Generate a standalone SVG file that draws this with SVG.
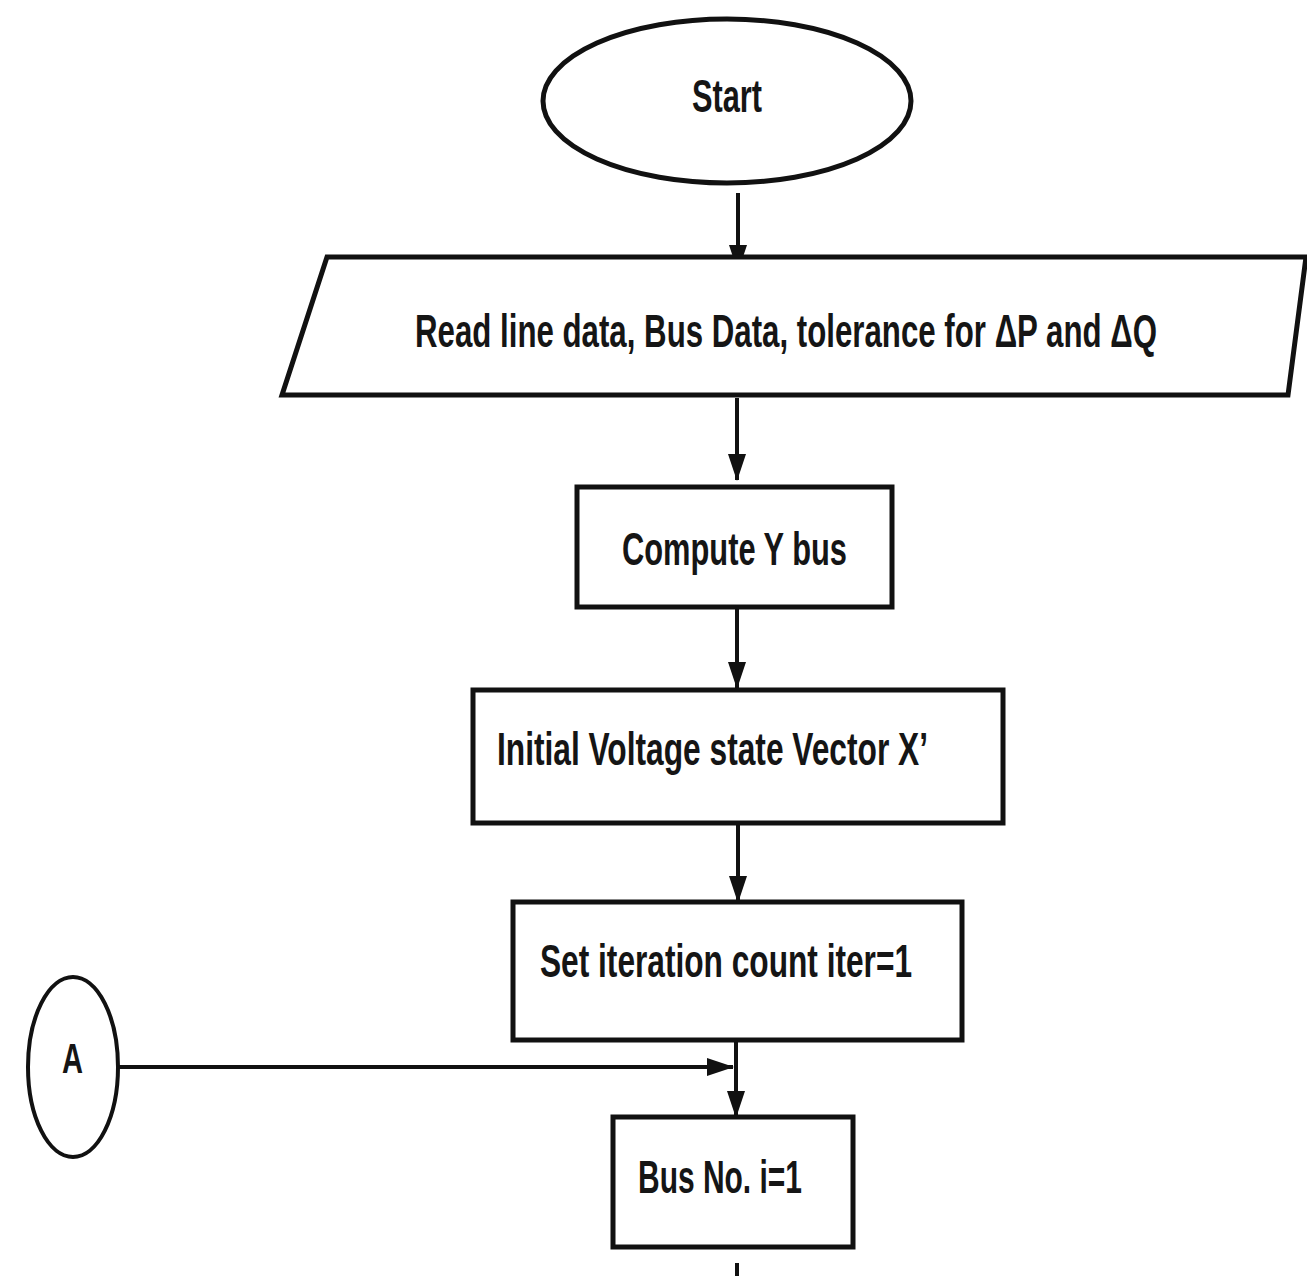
<svg xmlns="http://www.w3.org/2000/svg" width="1307" height="1276" viewBox="0 0 1307 1276">
<style>
.shape{fill:#fff;stroke:#111;stroke-width:5}
.thin{fill:#fff;stroke:#111;stroke-width:4}
.conn{fill:none;stroke:#111;stroke-width:4}
.lbl{font-family:"Liberation Sans",Arial,sans-serif;font-weight:bold;font-size:46px;fill:#151515}
</style>
<defs>
<marker id="ah" markerUnits="userSpaceOnUse" markerWidth="27" markerHeight="18" refX="26" refY="9" orient="auto">
<path d="M0,0 L27,9 L0,18 z" fill="#111"/>
</marker>
</defs>
<rect width="1307" height="1276" fill="#fff"/>
<g id="connectors">
<line class="conn" x1="738" y1="193" x2="738" y2="271" marker-end="url(#ah)"/>
<line class="conn" x1="737" y1="398" x2="737" y2="480" marker-end="url(#ah)"/>
<line class="conn" x1="737" y1="607" x2="737" y2="688" marker-end="url(#ah)"/>
<line class="conn" x1="738" y1="823" x2="738" y2="902" marker-end="url(#ah)"/>
<line class="conn" x1="736" y1="1040" x2="736" y2="1117" marker-end="url(#ah)"/>
<line class="conn" x1="118" y1="1067" x2="733" y2="1067" marker-end="url(#ah)"/>
<line class="conn" x1="737" y1="1263" x2="737" y2="1280"/>
</g>
<g id="start">
<ellipse class="shape" cx="727" cy="101" rx="184" ry="82"/>
<text class="lbl" x="692" y="112" textLength="70" lengthAdjust="spacingAndGlyphs">Start</text>
</g>
<g id="read-data">
<polygon class="shape" points="327,257 1306,257 1288,395 282,395"/>
<text class="lbl" x="415" y="347" textLength="742" lengthAdjust="spacingAndGlyphs">Read line data, Bus Data, tolerance for ΔP and ΔQ</text>
</g>
<g id="compute-ybus">
<rect class="shape" x="577" y="487" width="315" height="120"/>
<text class="lbl" x="622" y="565" textLength="225" lengthAdjust="spacingAndGlyphs">Compute Y bus</text>
</g>
<g id="initial-voltage">
<rect class="shape" x="473" y="690" width="530" height="133"/>
<text class="lbl" x="497" y="765" textLength="431" lengthAdjust="spacingAndGlyphs">Initial Voltage state Vector X’</text>
</g>
<g id="set-iteration">
<rect class="shape" x="513" y="902" width="449" height="138"/>
<text class="lbl" x="540" y="977" textLength="372" lengthAdjust="spacingAndGlyphs">Set iteration count iter=1</text>
</g>
<g id="connector-a">
<ellipse class="thin" cx="73" cy="1067" rx="45" ry="90"/>
<text x="62" y="1073" textLength="21" lengthAdjust="spacingAndGlyphs" style="font-family:'Liberation Sans',Arial,sans-serif;font-weight:bold;font-size:42px;fill:#151515">A</text>
</g>
<g id="bus-no">
<rect class="shape" x="613" y="1117" width="240" height="130"/>
<text class="lbl" x="638" y="1193" textLength="164" lengthAdjust="spacingAndGlyphs">Bus No. i=1</text>
</g>
</svg>
